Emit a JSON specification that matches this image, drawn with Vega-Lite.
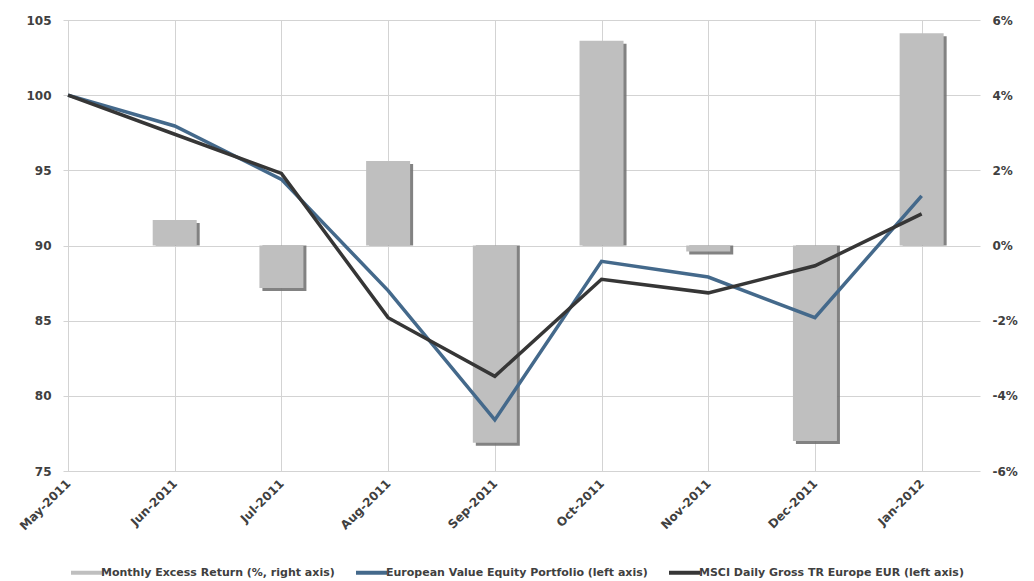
{
  "$schema": "https://vega.github.io/schema/vega-lite/v6.json",
  "width": 917,
  "height": 451,
  "autosize": {"type": "none"},
  "padding": {"left": 63, "top": 20, "right": 54, "bottom": 110},
  "background": "white",
  "config": {"view": {"stroke": null}, "font": "DejaVu Sans"},
  "data": {
    "values": [
      {"m": 0, "month": "May-2011", "portfolio": 100, "msci": 100, "excess": null},
      {"m": 1, "month": "Jun-2011", "portfolio": 97.95, "msci": 97.4, "excess": 0.0068},
      {"m": 2, "month": "Jul-2011", "portfolio": 94.4, "msci": 94.8, "excess": -0.0113},
      {"m": 3, "month": "Aug-2011", "portfolio": 87.0, "msci": 85.2, "excess": 0.0225},
      {"m": 4, "month": "Sep-2011", "portfolio": 78.4, "msci": 81.3, "excess": -0.0525},
      {"m": 5, "month": "Oct-2011", "portfolio": 88.95, "msci": 87.75, "excess": 0.0545},
      {"m": 6, "month": "Nov-2011", "portfolio": 87.9, "msci": 86.85, "excess": -0.0016},
      {"m": 7, "month": "Dec-2011", "portfolio": 85.2, "msci": 88.65, "excess": -0.052},
      {"m": 8, "month": "Jan-2012", "portfolio": 93.3, "msci": 92.1, "excess": 0.0565}
    ]
  },
  "encoding": {
    "x": {
      "field": "m",
      "type": "quantitative",
      "scale": {"domain": [0, 8.5], "nice": false, "zero": false},
      "axis": {
        "orient": "bottom",
        "values": [0, 1, 2, 3, 4, 5, 6, 7, 8],
        "labelExpr": "['May-2011','Jun-2011','Jul-2011','Aug-2011','Sep-2011','Oct-2011','Nov-2011','Dec-2011','Jan-2012'][datum.value]",
        "labelAngle": -45,
        "labelAlign": "right",
        "labelBaseline": "middle",
        "labelFontWeight": "bold",
        "labelFontSize": 12,
        "labelColor": "#404040",
        "labelPadding": 10,
        "labelDx": -5,
        "grid": true,
        "gridColor": "#d3d3d3",
        "ticks": false,
        "domain": false,
        "title": null
      }
    }
  },
  "layer": [
    {
      "mark": {"type": "bar", "size": 44, "xOffset": 3, "yOffset": 3, "color": "#747474", "opacity": 0.9},
      "encoding": {
        "y": {"field": "excess", "type": "quantitative", "scale": {"domain": [-0.06, 0.06], "nice": false}, "axis": null},
        "y2": {"datum": 0}
      }
    },
    {
      "mark": {"type": "bar", "size": 44},
      "encoding": {
        "y": {
          "field": "excess",
          "type": "quantitative",
          "scale": {"domain": [-0.06, 0.06], "nice": false},
          "axis": {
            "orient": "right",
            "values": [-0.06, -0.04, -0.02, 0, 0.02, 0.04, 0.06],
            "labelExpr": "(datum.value < 0 ? '-' : '') + abs(round(datum.value * 100)) + '%'",
            "grid": false,
            "ticks": false,
            "domain": false,
            "labelFontWeight": "bold",
            "labelFontSize": 12,
            "labelColor": "#404040",
            "labelPadding": 12,
            "title": null
          }
        },
        "y2": {"datum": 0},
        "color": {"datum": "Monthly Excess Return (%, right axis)", "type": "nominal"}
      }
    },
    {
      "mark": {"type": "line", "strokeWidth": 3.5},
      "encoding": {
        "y": {
          "field": "portfolio",
          "type": "quantitative",
          "scale": {"domain": [75, 105], "nice": false, "zero": false},
          "axis": {
            "orient": "left",
            "values": [75, 80, 85, 90, 95, 100, 105],
            "grid": true,
            "gridColor": "#d3d3d3",
            "ticks": false,
            "domain": false,
            "labelFontWeight": "bold",
            "labelFontSize": 12,
            "labelColor": "#404040",
            "labelPadding": 12,
            "title": null
          }
        },
        "color": {"datum": "European Value Equity Portfolio (left axis)", "type": "nominal"}
      }
    },
    {
      "mark": {"type": "line", "strokeWidth": 3.5},
      "encoding": {
        "y": {"field": "msci", "type": "quantitative", "scale": {"domain": [75, 105], "nice": false, "zero": false}, "axis": null},
        "color": {
          "datum": "MSCI Daily Gross TR Europe EUR (left axis)",
          "type": "nominal",
          "scale": {
            "domain": ["Monthly Excess Return (%, right axis)", "European Value Equity Portfolio (left axis)", "MSCI Daily Gross TR Europe EUR (left axis)"],
            "range": ["#bfbfbf", "#44698b", "#363636"]
          },
          "legend": {
            "orient": "none",
            "legendX": 6,
            "legendY": 535,
            "direction": "horizontal",
            "title": null,
            "symbolType": "stroke",
            "symbolSize": 961,
            "symbolStrokeWidth": 4,
            "labelFontSize": 11,
            "labelFontWeight": "bold",
            "labelColor": "#404040",
            "labelOffset": -3,
            "labelLimit": 500,
            "columnPadding": 13
          }
        }
      }
    }
  ],
  "resolve": {"scale": {"y": "independent"}}
}
